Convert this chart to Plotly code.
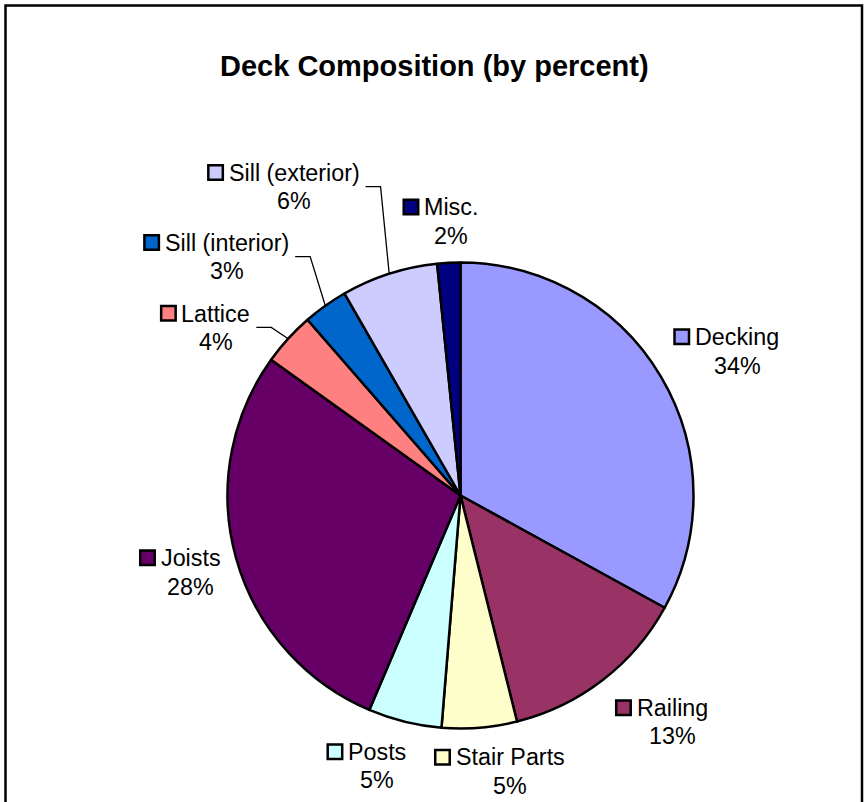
import math
import plotly.graph_objects as go

# ---- data ----
categories = ["Decking", "Railing", "Stair Parts", "Posts", "Joists",
              "Lattice", "Sill (interior)", "Sill (exterior)", "Misc."]
values = [33.0, 13.1, 5.2, 5.1, 28.5, 3.7, 3.1, 6.7, 1.6]
pct_labels = ["34%", "13%", "5%", "5%", "28%", "4%", "3%", "6%", "2%"]
colors = ["#9999FF", "#993366", "#FFFFCC", "#CCFFFF", "#660066",
          "#FF8080", "#0066CC", "#CCCCFF", "#000080"]
title_text = "Deck Composition (by percent)"

# ---- layout constants (pixels) ----
W, H = 866, 802
CX, CY, R = 460.5, 495.5, 233.0
FS = 23.3          # label font size
TFS = 29           # title font size
FONT = "Liberation Sans, Arial, sans-serif"

# label placement: (angle clockwise from 12 o'clock, distance from centre)
label_place = [(62.4, 312.1), (136.9, 310.0), (169.8, 280.2), (197.1, 282.8),
               (254.2, 280.6), (304.5, 296.7), (315.65, 334.0), (331.7, 350.8),
               (358.1, 274.4)]
has_leader = [False, False, False, False, False, True, True, True, False]

ARIAL = {' ': 278, '(': 333, ')': 333, '%': 889, '.': 278,
         'A': 667, 'D': 722, 'J': 500, 'L': 556, 'M': 833, 'P': 667, 'R': 722, 'S': 667,
         'a': 556, 'c': 500, 'e': 556, 'g': 556, 'i': 222, 'k': 500, 'l': 222, 'n': 556,
         'o': 556, 'r': 333, 's': 500, 't': 278, 'x': 500}
for d in "0123456789":
    ARIAL[d] = 556


def tw(s, size=FS):
    return sum(ARIAL.get(c, 556) for c in s) / 1000.0 * size


def px(x):
    return x / W


def py(y):
    return 1 - y / H


fig = go.Figure()
fig.add_trace(go.Pie(
    labels=categories, values=values, sort=False, direction="clockwise",
    rotation=0, textinfo="none", hoverinfo="label+percent",
    marker=dict(colors=colors, line=dict(color="black", width=2.5)),
    domain=dict(x=[px(CX - R), px(CX + R)], y=[py(CY + R), py(CY - R)]),
    showlegend=False,
))

annotations = []
shapes = []

# title
annotations.append(dict(x=px(434.5), y=py(66), xref="paper", yref="paper",
                        text="<b>" + title_text + "</b>", showarrow=False,
                        xanchor="center", yanchor="middle",
                        font=dict(family=FONT, size=TFS, color="black")))

total = sum(values)
cum = 0.0
for i, name in enumerate(categories):
    mid_ang = (cum + values[i] / 2) / total * 360.0
    cum += values[i]
    a, d = label_place[i]
    lx = CX + d * math.sin(math.radians(a))
    M = CY - d * math.cos(math.radians(a))
    b1 = M - 5.8
    b2 = b1 + 28.5
    annotations.append(dict(x=px(lx), y=py(b1 - 0.3465 * FS), xref="paper", yref="paper",
                            text=name, showarrow=False, xanchor="center", yanchor="middle",
                            font=dict(family=FONT, size=FS, color="black")))
    annotations.append(dict(x=px(lx), y=py(b2 - 0.3465 * FS), xref="paper", yref="paper",
                            text=pct_labels[i], showarrow=False, xanchor="center", yanchor="middle",
                            font=dict(family=FONT, size=FS, color="black")))
    w1 = tw(name)
    w2 = tw(pct_labels[i])
    sq_r = lx - w1 / 2 - 6
    sq = 14.5
    sc = b1 - 0.716 * FS / 2
    shapes.append(dict(type="rect", xref="paper", yref="paper",
                       x0=px(sq_r - sq), x1=px(sq_r), y0=py(sc + sq / 2), y1=py(sc - sq / 2),
                       fillcolor=colors[i], line=dict(color="black", width=2.5)))
    if has_leader[i]:
        x0 = lx + max(w1, w2) / 2 + 6
        x1 = x0 + 15
        ex = CX + R * math.sin(math.radians(mid_ang))
        ey = CY - R * math.cos(math.radians(mid_ang))
        shapes.append(dict(type="path", xref="paper", yref="paper",
                           path="M %f,%f L %f,%f L %f,%f" % (px(x0), py(M), px(x1), py(M), px(ex), py(ey)),
                           line=dict(color="black", width=1.3)))

# chart area border
shapes.append(dict(type="rect", xref="paper", yref="paper",
                   x0=px(5.5), x1=px(862), y0=py(830), y1=py(5.5),
                   line=dict(color="black", width=2.5), fillcolor="rgba(0,0,0,0)"))

fig.update_layout(width=W, height=H, autosize=False,
                  margin=dict(l=0, r=0, t=0, b=0),
                  paper_bgcolor="white", plot_bgcolor="white",
                  annotations=annotations, shapes=shapes,
                  font=dict(family=FONT))

fig.write_html("out.html")
